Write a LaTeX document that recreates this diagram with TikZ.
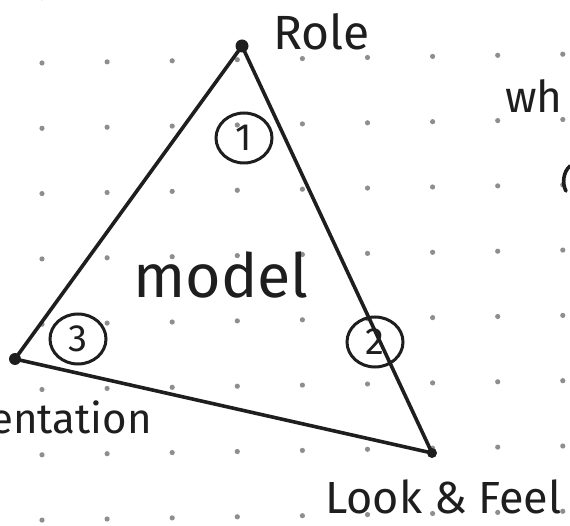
\documentclass[tikz,border=0pt]{standalone}
\usepackage{fontspec}
\setmainfont{Fira Sans}
\usetikzlibrary{shapes.geometric}
\definecolor{ink}{HTML}{1E1E1E}
\definecolor{dotc}{HTML}{8E8E8E}
\tikzset{
  edge/.style={draw=ink, line width=3.6pt, line cap=round, line join=round},
  vtx/.style={fill=ink},
  numc/.style={draw=ink, line width=3pt, ellipse, inner sep=0pt, minimum width=56pt, minimum height=50pt, text=ink, font=\fontsize{38}{38}\selectfont},
  hand/.style={text=ink, inner sep=0pt, anchor=base west},
}
\begin{document}
\begin{tikzpicture}[x=1pt,y=-1pt]
\useasboundingbox (0,0) rectangle (570,526);
\clip (0,0) rectangle (570,526);
% dot grid
\foreach \i in {0,...,8}{
  \foreach \j in {-1,...,7}{
    \fill[dotc] ({42+65.1*\i},{63+65.3*\j-1.1*\i}) circle (2.6pt);
  }
}
% vertices
\coordinate (A) at (242,46);
\coordinate (B) at (15,359);
\coordinate (C) at (432,453);
\draw[edge] (A) -- (B);
\draw[edge] (A) -- (C);
\draw[edge] (B) -- (C);
\fill[vtx] (A) circle (6.5pt);
\fill[vtx] (B) circle (6pt);
\fill[vtx] (C) circle (5pt);
% circled numbers
\node[numc] (n1) at (244,138) {1};
\node[numc] (n2) at (375,342) {2};
\node[numc] (n3) at (78,339) {3};
% labels
\node[hand, font=\fontsize{48}{48}\selectfont] (role) at (273,50) {Role};
\node[hand, font=\fontsize{61}{61}\selectfont] (model) at (133,298) {model};
\node[hand, font=\fontsize{45}{45}\selectfont] (lf) at (325,513) {Look \& Feel};
\node[hand, font=\fontsize{42}{42}\selectfont] (pres) at (-91,433) {Presentation};
\node[hand, font=\fontsize{44}{44}\selectfont] (wh) at (505,113) {wh};
% partial stroke at right edge
\draw[edge] (570,166) .. controls (563,172) and (562,184) .. (566,191);
\end{tikzpicture}
\end{document}
